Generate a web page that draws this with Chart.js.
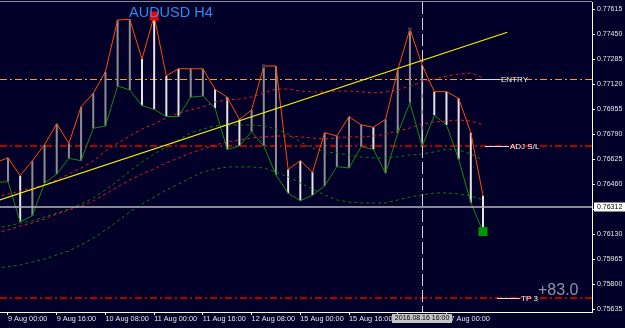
<!DOCTYPE html>
<html>
<head>
<meta charset="utf-8">
<script src="https://cdn.jsdelivr.net/npm/chart.js@4.4.0/dist/chart.umd.min.js"></script>
<style>
  html, body { margin: 0; padding: 0; background: #020028; overflow: hidden; }
</style>
</head>
<body>
<canvas id="chart" width="625" height="328"></canvas>
<script>
// --- bar times (H4), first one sits just off the left edge ---
const barTimes = [
  '08.08 20:00',
  '08.09 00:00', '08.09 04:00', '08.09 08:00', '08.09 12:00', '08.09 16:00', '08.09 20:00',
  '08.10 00:00', '08.10 04:00', '08.10 08:00', '08.10 12:00', '08.10 16:00', '08.10 20:00',
  '08.11 00:00', '08.11 04:00', '08.11 08:00', '08.11 12:00', '08.11 16:00', '08.11 20:00',
  '08.12 00:00', '08.12 04:00', '08.12 08:00', '08.12 12:00', '08.12 16:00', '08.12 20:00',
  '08.15 00:00', '08.15 04:00', '08.15 08:00', '08.15 12:00', '08.15 16:00', '08.15 20:00',
  '08.16 00:00', '08.16 04:00', '08.16 08:00', '08.16 12:00', '08.16 16:00', '08.16 20:00',
  '08.17 00:00', '08.17 04:00', '08.17 08:00', '08.17 12:00'
];

const highs = [0.76604, 0.76637, 0.76518, 0.76617, 0.76723, 0.76861, 0.76732, 0.76973, 0.77062, 0.77204,
  0.77546, 0.77550, 0.77288, 0.77572, 0.77176, 0.77224, 0.77224, 0.77224, 0.77088, 0.77036,
  0.76890, 0.76952, 0.77242, 0.77242, 0.76560, 0.76617, 0.76541, 0.76802, 0.76780, 0.76908,
  0.76853, 0.76838, 0.76890, 0.77216, 0.77486, 0.77249, 0.77073, 0.77073, 0.77029, 0.76802, 0.76386];
const lows = [0.76473, 0.76479, 0.76213, 0.76254, 0.76468, 0.76529, 0.76633, 0.76617, 0.76831, 0.76846,
  0.77110, 0.77084, 0.76980, 0.76956, 0.76909, 0.76908, 0.77036, 0.77044, 0.76963, 0.76692,
  0.76714, 0.76809, 0.76714, 0.76523, 0.76402, 0.76353, 0.76389, 0.76450, 0.76578, 0.76569,
  0.76710, 0.76692, 0.76534, 0.76798, 0.77000, 0.76710, 0.76917, 0.76853, 0.76626, 0.76340, 0.76149];
const barUp = [0, 0, 1, 0, 0, 0, 0, 0, 0, 0, 0, 0, 1, 1, 1, 1, 0, 0, 1, 1, 1,
  0, 0, 0, 1, 1, 1, 0, 0, 0, 0, 1, 0, 0, 0, 0, 1, 1, 1, 1, 1];

// --- envelope bands (dotted) ---
const redUpper = [0.76378, 0.76397, 0.76417, 0.76437, 0.76457, 0.76490, 0.76529, 0.76569, 0.76615, 0.76681,
  0.76734, 0.76780, 0.76826, 0.76859, 0.76899, 0.76932, 0.76952, 0.76972, 0.77005, 0.77018,
  0.77024, 0.77037, 0.77064, 0.77090, 0.77090, 0.77077, 0.77071, 0.77071, 0.77077, 0.77077,
  0.77071, 0.77064, 0.77071, 0.77084, 0.77110, 0.77136, 0.77156, 0.77176, 0.77189, 0.77196, 0.77163];
const redLower = [0.76140, 0.76160, 0.76186, 0.76206, 0.76232, 0.76265, 0.76292, 0.76318, 0.76351, 0.76397,
  0.76444, 0.76490, 0.76529, 0.76562, 0.76602, 0.76635, 0.76668, 0.76694, 0.76721, 0.76741,
  0.76754, 0.76767, 0.76774, 0.76780, 0.76780, 0.76774, 0.76767, 0.76760, 0.76767, 0.76774,
  0.76774, 0.76780, 0.76793, 0.76813, 0.76833, 0.76859, 0.76873, 0.76879, 0.76886, 0.76879, 0.76853];
const greenUpper = [0.76173, 0.76186, 0.76206, 0.76219, 0.76246, 0.76272, 0.76298, 0.76331, 0.76371, 0.76424,
  0.76483, 0.76549, 0.76609, 0.76661, 0.76708, 0.76754, 0.76800, 0.76826, 0.76846, 0.76853,
  0.76853, 0.76853, 0.76846, 0.76826, 0.76793, 0.76741, 0.76701, 0.76675, 0.76668, 0.76655,
  0.76642, 0.76635, 0.76635, 0.76642, 0.76655, 0.76661, 0.76675, 0.76694, 0.76688, 0.76661, 0.76622];
const greenLower = [0.75909, 0.75916, 0.75929, 0.75949, 0.75968, 0.75995, 0.76021, 0.76061, 0.76107, 0.76160,
  0.76219, 0.76279, 0.76331, 0.76378, 0.76424, 0.76463, 0.76503, 0.76542, 0.76562, 0.76576,
  0.76576, 0.76576, 0.76569, 0.76542, 0.76510, 0.76470, 0.76430, 0.76391, 0.76358, 0.76344,
  0.76338, 0.76338, 0.76338, 0.76358, 0.76378, 0.76391, 0.76404, 0.76404, 0.76397, 0.76384, 0.76358];

// --- trendline anchors (bar number, price) ---
const trendBars = [0, 42];
const trendPrices = [0.76349, 0.77465];

// --- markers ---
const topMarkTime = '08.11 00:00';
const bottomMarkTime = '08.17 12:00';
const fractalTimes = ['08.12 12:00', '08.16 12:00'];

// --- horizontal levels ---
const levelNames = ['ENTRY', 'ADJ S/L', 'TP 3'];
const levelPrices = [0.77154, 0.76711, 0.75711];
const currentPrice = 0.76312;

// --- axes ---
const yTickLabels = ['0.77615', '0.77450', '0.77285', '0.77120', '0.76955', '0.76790', '0.76625',
  '0.76460', '0.76295', '0.76130', '0.75965', '0.75800', '0.75635'];
const xTickTimes = ['08.09 00:00', '08.09 16:00', '08.10 08:00', '08.11 00:00', '08.11 16:00',
  '08.12 08:00', '08.15 00:00', '08.15 16:00', '08.16 08:00', '08.17 00:00'];
const xTickLabels = ['9 Aug 00:00', '9 Aug 16:00', '10 Aug 08:00', '11 Aug 00:00', '11 Aug 16:00',
  '12 Aug 08:00', '15 Aug 00:00', '15 Aug 16:00', '16 Aug 08:00', '17 Aug 00:00'];

const cursorTime = '08.16 16:00';
const cursorLabel = '2016.08.16 16:00';
const chartTitle = 'AUDUSD H4';
const profitText = '+83.0';

// --- look ---
const bg = '#020028';
const axisInk = '#e6e6e6';
const fam = "'Liberation Sans', Arial, sans-serif";
const levelLook = [
  { color: '#ffa200', width: 1, tagLeft: 477, textLeft: 501 },
  { color: '#b00000', width: 2, tagLeft: 485, textLeft: 510 },
  { color: '#b00000', width: 2, tagLeft: 497, textLeft: 521 }
];

const pts = arr => arr.map((v, k) => ({ x: k, y: v }));
const band = (arr, color) => ({
  type: 'line', data: pts(arr), borderColor: color, borderWidth: 1, borderDash: [3, 3],
  pointRadius: 0, tension: 0, order: 8
});

const overlay = {
  id: 'overlay',
  beforeDraw(chart) {
    const ctx = chart.ctx;
    ctx.save();
    ctx.fillStyle = bg;
    ctx.fillRect(0, 0, chart.width, chart.height);
    ctx.restore();
  },
  beforeDatasetsDraw(chart) {
    const { ctx, chartArea: a, scales: { y } } = chart;
    ctx.save();
    ctx.beginPath();
    ctx.rect(a.left, a.top, a.right - a.left, a.bottom - a.top);
    ctx.clip();
    levelPrices.forEach((p, n) => {
      const look = levelLook[n];
      const py = Math.round(y.getPixelForValue(p)) + (look.width === 1 ? 0.5 : 0);
      ctx.strokeStyle = look.color;
      ctx.lineWidth = look.width;
      ctx.setLineDash([7, 3, 2, 3]);
      ctx.beginPath();
      ctx.moveTo(a.left, py);
      ctx.lineTo(a.right, py);
      ctx.stroke();
    });
    ctx.restore();
  },
  afterDatasetsDraw(chart) {
    const { ctx, chartArea: a, scales: { x, y } } = chart;
    ctx.save();
    ctx.beginPath();
    ctx.rect(a.left, a.top, a.right - a.left, a.bottom - a.top);
    ctx.clip();

    // current bid line
    const cy = y.getPixelForValue(currentPrice);
    ctx.setLineDash([]);
    ctx.strokeStyle = '#b4b4bc';
    ctx.lineWidth = 1.5;
    ctx.beginPath();
    ctx.moveTo(a.left, cy);
    ctx.lineTo(a.right, cy);
    ctx.stroke();

    // crosshair
    const cx = Math.round(x.getPixelForValue(barTimes.indexOf(cursorTime))) + 0.5;
    ctx.strokeStyle = '#d4d4d4';
    ctx.lineWidth = 1;
    ctx.setLineDash([12, 4]);
    ctx.beginPath();
    ctx.moveTo(cx, a.top);
    ctx.lineTo(cx, a.bottom);
    ctx.stroke();

    // level tags
    ctx.setLineDash([]);
    ctx.font = '8px ' + fam;
    ctx.textAlign = 'left';
    ctx.textBaseline = 'middle';
    levelNames.forEach((name, n) => {
      const look = levelLook[n];
      const py = Math.round(y.getPixelForValue(levelPrices[n])) + 0.5;
      ctx.strokeStyle = '#dcdcdc';
      ctx.lineWidth = 1;
      ctx.beginPath();
      ctx.moveTo(look.tagLeft, py);
      ctx.lineTo(look.textLeft - 1, py);
      ctx.stroke();
      ctx.fillStyle = '#f2f2f2';
      ctx.fillText(name, look.textLeft, py);
    });

    // profit
    ctx.font = '16px ' + fam;
    ctx.fillStyle = '#8a96a8';
    ctx.textBaseline = 'alphabetic';
    ctx.fillText(profitText, 538, 295);

    // title
    ctx.font = '14.5px ' + fam;
    ctx.fillStyle = '#2a8cf4';
    ctx.fillText(chartTitle, 129, 16.5);
    ctx.restore();
  },
  afterDraw(chart) {
    const { ctx, chartArea: a, scales: { x, y } } = chart;
    ctx.save();
    // top frame line
    ctx.strokeStyle = '#8c8c9c';
    ctx.lineWidth = 1;
    ctx.beginPath();
    ctx.moveTo(0, 1.5);
    ctx.lineTo(a.right, 1.5);
    ctx.stroke();

    // price tag on the axis
    const cy = y.getPixelForValue(currentPrice);
    ctx.fillStyle = '#ffffff';
    ctx.fillRect(a.right + 2, Math.round(cy) - 4.5, 31, 9);
    ctx.fillStyle = '#000000';
    ctx.font = '7px ' + fam;
    ctx.textAlign = 'left';
    ctx.textBaseline = 'middle';
    ctx.fillText(currentPrice.toFixed(5), a.right + 5, cy);

    // time tag under the crosshair
    const cx = x.getPixelForValue(barTimes.indexOf(cursorTime));
    ctx.fillStyle = '#c4c4c4';
    ctx.fillRect(Math.round(cx) - 30, a.bottom + 2, 60, 9);
    ctx.fillStyle = '#000000';
    ctx.textAlign = 'center';
    ctx.fillText(cursorLabel, cx, a.bottom + 6.5);
    ctx.restore();
  }
};

const topK = barTimes.indexOf(topMarkTime);
const bottomK = barTimes.indexOf(bottomMarkTime);

new Chart(document.getElementById('chart').getContext('2d'), {
  type: 'bar',
  data: {
    datasets: [
      {
        type: 'bar',
        data: barTimes.map((t, k) => ({ x: k, y: [lows[k], highs[k]] })),
        backgroundColor: barUp.map(u => (u ? '#e4e4e4' : '#8e8e8e')),
        borderWidth: 0,
        barThickness: 2,
        inflateAmount: 0,
        order: 10
      },
      band(redUpper, '#dc1c1c'),
      band(redLower, '#dc1c1c'),
      band(greenUpper, '#0b7e0b'),
      band(greenLower, '#0b7e0b'),
      { type: 'line', data: pts(highs), borderColor: '#ff4a0a', borderWidth: 1, pointRadius: 0, tension: 0, order: 6 },
      { type: 'line', data: pts(lows), borderColor: '#108c10', borderWidth: 1, pointRadius: 0, tension: 0, order: 6 },
      {
        type: 'line',
        data: trendBars.map((b, n) => ({ x: b, y: trendPrices[n] })),
        borderColor: '#f4f000', borderWidth: 1.2, pointRadius: 0, order: 4
      },
      {
        type: 'line', showLine: false,
        data: fractalTimes.map(t => ({ x: barTimes.indexOf(t), y: highs[barTimes.indexOf(t)] })),
        pointStyle: 'rect', pointRadius: 2.5, backgroundColor: '#3a3a40', borderWidth: 0, order: 2
      },
      {
        type: 'line', showLine: false,
        data: [{ x: topK, y: highs[topK] }],
        pointStyle: 'rect', pointRadius: 6.4, backgroundColor: '#f40000', borderWidth: 0, order: 1
      },
      {
        type: 'line', showLine: false,
        data: [{ x: bottomK, y: lows[bottomK] }],
        pointStyle: 'rect', pointRadius: 6.4, backgroundColor: '#00940a', borderWidth: 0, order: 1
      }
    ]
  },
  options: {
    responsive: false,
    animation: false,
    devicePixelRatio: 1,
    layout: { autoPadding: false, padding: { left: 0, top: 2, right: 0, bottom: 0 } },
    plugins: { legend: { display: false }, tooltip: { enabled: false } },
    scales: {
      x: {
        type: 'linear',
        offset: false,
        min: 0.3432,
        max: 48.949,
        afterBuildTicks: s => { s.ticks = xTickTimes.map(t => ({ value: barTimes.indexOf(t) })); },
        afterFit: s => { s.height = 16; s.paddingLeft = 0; s.paddingRight = 0; },
        grid: { offset: false, drawOnChartArea: false, drawTicks: true, tickLength: 3, color: '#ffffff' },
        border: { display: true, color: '#ffffff', width: 1 },
        ticks: {
          autoSkip: false, maxRotation: 0, align: 'start', padding: 0,
          color: axisInk, font: { family: fam, size: 7.3 },
          callback: (v, i) => xTickLabels[i]
        }
      },
      y: {
        type: 'linear',
        position: 'right',
        min: 0.756185,
        max: 0.776645,
        afterBuildTicks: s => { s.ticks = yTickLabels.map(v => ({ value: parseFloat(v) })); },
        afterFit: s => { s.width = 33; s.paddingTop = 0; s.paddingBottom = 0; },
        grid: { drawOnChartArea: false, drawTicks: true, tickLength: 3, color: '#ffffff' },
        border: { display: true, color: '#ffffff', width: 1 },
        ticks: {
          padding: 2, color: axisInk, font: { family: fam, size: 7 },
          callback: (v, i) => yTickLabels[i]
        }
      }
    }
  },
  plugins: [overlay]
});
</script>
</body>
</html>
